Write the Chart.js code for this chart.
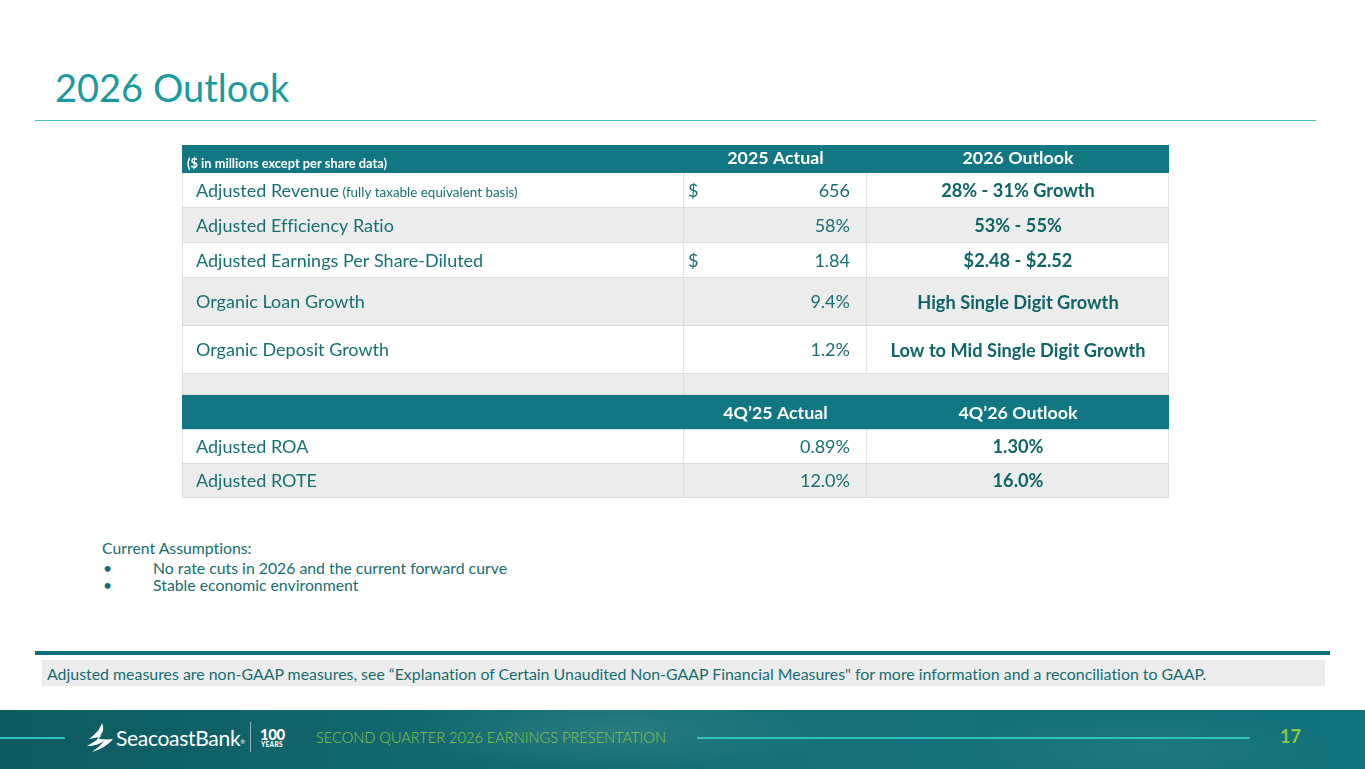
<!DOCTYPE html>
<html>
<head>
<meta charset="utf-8">
<script src="https://cdn.jsdelivr.net/npm/chart.js@4.4.1/dist/chart.umd.min.js"></script>
<style>
  html, body { margin:0; padding:0; width:1365px; height:769px; overflow:hidden; background:#ffffff; font-family: Lato, "Open Sans", sans-serif; font-variant-ligatures:none; }
  .abs { position:absolute; white-space:nowrap; }
  #title { left:55px; top:68px; font-size:38px; line-height:1; color:#1a9ba0; }
  #titleRule { left:35px; top:120px; width:1281px; height:1px; background:#3fc1c0; }
  .sec { position:absolute; left:182px; width:987px; }
  #assume { left:102px; top:539px; font-size:15.8px; line-height:17px; color:#166d70; }
  #assume ul { margin:3px 0 0 0; padding:0; list-style:none; }
  #assume li { position:relative; padding-left:51px; }
  #assume li::before { content:"\2022"; position:absolute; left:1px; top:0; }
  #thickRule { left:35px; top:651px; width:1295px; height:4px; background:#0f6f76; }
  #noteBox { left:42px; top:660px; width:1283px; height:26px; background:#ececec; }
  #noteText { left:47px; top:664px; font-size:15.9px; line-height:19px; color:#166d70; }
  #footer { left:0; top:710px; width:1365px; height:59px;
    background: radial-gradient(ellipse 300px 60px at 620px 20px, rgba(80,150,150,0.35), rgba(0,0,0,0) 70%),
                radial-gradient(ellipse 260px 50px at 1150px 40px, rgba(70,140,145,0.25), rgba(0,0,0,0) 70%),
                linear-gradient(90deg, #0d5b61 0%, #126a70 35%, #15707a 60%, #11727b 100%); }
  .fline { position:absolute; height:2px; background:#33c1bd; }
  #brand { left:116px; top:726px; font-size:21px; line-height:24px; color:#ffffff; letter-spacing:-0.3px; }
  #brand sup { font-size:6px; vertical-align:top; position:relative; top:4px; }
  #vdiv { left:250px; top:722px; width:1px; height:30px; background:rgba(255,255,255,0.55); }
  #hundred { left:260px; top:726px; font-size:15px; font-weight:900; line-height:16px; color:#fff; letter-spacing:-0.5px; }
  #years { left:261px; top:741px; font-size:6.5px; font-weight:900; line-height:7px; color:#fff; letter-spacing:0.3px; }
  #present { left:316px; top:729px; font-size:14.6px; line-height:17px; color:#8cc63f; font-weight:300; }
  #page { left:1280px; top:726px; font-size:18px; line-height:20px; color:#8cc63f; font-weight:bold; }
</style>
</head>
<body>
<div id="title" class="abs">2026 Outlook</div>
<div id="titleRule" class="abs"></div>

<div class="sec" style="top:145px;height:28px;"><canvas id="sec0"></canvas></div>
<div class="sec" style="top:173px;height:105px;"><canvas id="sec1"></canvas></div>
<div class="sec" style="top:278px;height:96px;"><canvas id="sec2"></canvas></div>
<div class="sec" style="top:374px;height:21px;"><canvas id="sec3"></canvas></div>
<div class="sec" style="top:395px;height:103px;"><canvas id="sec4"></canvas></div>

<div id="assume" class="abs">
  <div id="assumeTitle"></div>
  <ul id="assumeList"></ul>
</div>

<div id="thickRule" class="abs"></div>
<div id="noteBox" class="abs"></div>
<div id="noteText" class="abs"></div>

<div id="footer" class="abs"></div>
<div class="fline" style="left:0;top:737px;width:65px;"></div>
<div class="fline" style="left:697px;top:737px;width:553px;"></div>
<svg class="abs" style="left:86px;top:723px;" width="28" height="30" viewBox="0 0 28 30">
  <path d="M16 0 C14 6 10 11 3 16 C9 15 13 14 16 12 C12 16 7 20 1 23 C8 23 14 21 18 18 C15 22 10 26 6 29 C14 27 22 22 27 16 C20 17 14 16 11 15 C16 12 19 7 16 0 Z" fill="#ffffff"/>
</svg>
<div id="brand" class="abs">SeacoastBank<sup>®</sup></div>
<div id="vdiv" class="abs"></div>
<div id="hundred" class="abs">100</div>
<div id="years" class="abs">YEARS</div>
<div id="present" class="abs">SECOND QUARTER 2026 EARNINGS PRESENTATION</div>
<div id="page" class="abs">17</div>

<script>
// ================= DATA =================
const headerNote = '($ in millions except per share data)';
const annualHeaders = ['2025 Actual', '2026 Outlook'];
const annualMetrics = ['Adjusted Revenue', 'Adjusted Efficiency Ratio', 'Adjusted Earnings Per Share-Diluted', 'Organic Loan Growth', 'Organic Deposit Growth'];
const annualMetricNotes = ['(fully taxable equivalent basis)', '', '', '', ''];
const actual2025 = [656, 58, 1.84, 9.4, 1.2];
const actual2025Units = ['$', '%', '$', '%', '%'];
const actual2025Decimals = [0, 0, 2, 1, 1];
const outlook2026 = ['28% - 31% Growth', '53% - 55%', '$2.48 - $2.52', 'High Single Digit Growth', 'Low to Mid Single Digit Growth'];

const quarterHeaders = ['4Q\u201925 Actual', '4Q\u201926 Outlook'];
const quarterMetrics = ['Adjusted ROA', 'Adjusted ROTE'];
const actual4Q25 = [0.89, 12.0];
const outlook4Q26 = [1.30, 16.0];
const quarterDecimals = [2, 1];

const assumptionsTitle = 'Current Assumptions:';
const assumptions = ['No rate cuts in 2026 and the current forward curve', 'Stable economic environment'];
const footnote = 'Adjusted measures are non-GAAP measures, see \u201cExplanation of Certain Unaudited Non-GAAP Financial Measures" for more information and a reconciliation to GAAP.';

// ================= STYLE / LAYOUT =================
const FONT = 'Lato, "Open Sans", sans-serif';
const TEAL_HEAD = '#117782';
const GREY_ROW = '#ececec';
const WHITE_ROW = '#ffffff';
const GRID = '#d6d6d6';
const TXT = '#167073';
const TXT_BOLD = '#0f6467';
const COLUMN_EDGES = [0, 502, 685, 987];   // table column boundaries (layout units)
const ROW_SIZE = 18, BOLD_SIZE = 18.2, NOTE_SIZE = 13.4, HEAD_SIZE = 17.8, SMALL_HEAD = 12.8;
const SECTION_ROWS = [[0, 1], [1, 4], [4, 6], [6, 7], [7, 10]];

// ================= BUILD ROW MODEL =================
function fmt(v, d) { return v.toFixed(d); }
const rows = [];
rows.push({ kind: 'header', fill: TEAL_HEAD, cells: [
  { parts: [{ t: headerNote, size: SMALL_HEAD, bold: true }], align: 'left', pad: 5, color: '#ffffff', dy: 4 },
  { parts: [{ t: annualHeaders[0], size: HEAD_SIZE, bold: true }], align: 'center', color: '#ffffff', dy: -1 },
  { parts: [{ t: annualHeaders[1], size: HEAD_SIZE, bold: true }], align: 'center', color: '#ffffff', dy: -1 }
]});
annualMetrics.forEach((m, i) => {
  const parts = [{ t: m, size: ROW_SIZE }];
  if (annualMetricNotes[i]) parts.push({ t: ' ' + annualMetricNotes[i], size: NOTE_SIZE });
  const unit = actual2025Units[i];
  rows.push({ kind: 'data', fill: i % 2 === 0 ? WHITE_ROW : GREY_ROW, cells: [
    { parts, align: 'left', pad: 14, color: TXT },
    { parts: [{ t: fmt(actual2025[i], actual2025Decimals[i]) + (unit === '%' ? '%' : ''), size: ROW_SIZE }],
      align: 'right', pad: 17, color: TXT, prefix: unit === '$' ? '$' : null },
    { parts: [{ t: outlook2026[i], size: BOLD_SIZE, bold: true }], align: 'center', color: TXT_BOLD }
  ]});
});
rows.push({ kind: 'spacer', fill: GREY_ROW, cells: [null, null, null] });
rows.push({ kind: 'header', fill: TEAL_HEAD, cells: [
  null,
  { parts: [{ t: quarterHeaders[0], size: HEAD_SIZE, bold: true }], align: 'center', color: '#ffffff' },
  { parts: [{ t: quarterHeaders[1], size: HEAD_SIZE, bold: true }], align: 'center', color: '#ffffff' }
]});
quarterMetrics.forEach((m, i) => {
  rows.push({ kind: 'data', fill: i % 2 === 0 ? WHITE_ROW : GREY_ROW, cells: [
    { parts: [{ t: m, size: ROW_SIZE }], align: 'left', pad: 14, color: TXT },
    { parts: [{ t: fmt(actual4Q25[i], quarterDecimals[i]) + '%', size: ROW_SIZE }], align: 'right', pad: 17, color: TXT },
    { parts: [{ t: fmt(outlook4Q26[i], quarterDecimals[i]) + '%', size: BOLD_SIZE, bold: true }], align: 'center', color: TXT_BOLD }
  ]});
});

function borderFor(row, j) {
  if (row.kind === 'header') return 0;
  const b = { top: 0, bottom: 1, left: j === 0 ? 1 : 0, right: 1 };
  if (row.kind === 'spacer' && j === 1) b.right = 0;
  return b;
}

function setFont(ctx, pt) {
  ctx.font = (pt.bold ? 'bold ' : '') + pt.size + 'px ' + FONT;
  if ('letterSpacing' in ctx) ctx.letterSpacing = '0.01px';   // disables ligatures
}

function cellTextPlugin(secRows) {
  return {
    id: 'cellText',
    afterDatasetsDraw(chart) {
      const ctx = chart.ctx;
      ctx.save();
      chart.data.datasets.forEach((ds, j) => {
        const meta = chart.getDatasetMeta(j);
        meta.data.forEach((el, i) => {
          const cell = secRows[i].cells[j];
          if (!cell) return;
          const p = el.getProps(['x', 'base', 'y'], true);
          const left = Math.min(p.x, p.base), right = Math.max(p.x, p.base);
          const mainSize = cell.parts[0].size;
          const baseY = p.y + mainSize * 0.36 + (cell.dy || 0);
          ctx.fillStyle = cell.color;
          ctx.textBaseline = 'alphabetic';
          ctx.textAlign = 'left';
          const widths = cell.parts.map(pt => { setFont(ctx, pt); return ctx.measureText(pt.t).width; });
          const total = widths.reduce((a, b) => a + b, 0);
          let x;
          if (cell.align === 'left') x = left + (cell.pad || 0);
          else if (cell.align === 'right') x = right - (cell.pad || 0) - total;
          else x = (left + right) / 2 - total / 2;
          cell.parts.forEach((pt, k) => {
            setFont(ctx, pt);
            ctx.fillText(pt.t, x, baseY);
            x += widths[k];
          });
          if (cell.prefix) {
            setFont(ctx, { size: mainSize });
            ctx.fillText(cell.prefix, left + 4, baseY);
          }
        });
      });
      ctx.restore();
    }
  };
}

function makeSection(canvasId, secRows) {
  const datasets = [0, 1, 2].map(j => ({
    data: secRows.map(() => [COLUMN_EDGES[j], COLUMN_EDGES[j + 1]]),
    backgroundColor: secRows.map(r => r.fill),
    borderColor: secRows.map(r => r.kind === 'header' ? r.fill : GRID),
    borderWidth: (c) => borderFor(secRows[c.dataIndex], j),
    borderSkipped: false,
    categoryPercentage: 1,
    barPercentage: 1,
    grouped: false
  }));
  new Chart(document.getElementById(canvasId), {
    type: 'bar',
    data: { labels: secRows.map((r, i) => canvasId + '-' + i), datasets },
    options: {
      indexAxis: 'y',
      responsive: true,
      maintainAspectRatio: false,
      animation: false,
      events: [],
      layout: { padding: 0 },
      plugins: { legend: { display: false }, tooltip: { enabled: false } },
      scales: {
        x: { type: 'linear', min: COLUMN_EDGES[0], max: COLUMN_EDGES[3], display: false },
        y: { type: 'category', display: false, offset: true }
      }
    },
    plugins: [cellTextPlugin(secRows)]
  });
}

SECTION_ROWS.forEach(([a, b], s) => makeSection('sec' + s, rows.slice(a, b)));

// ================= TEXT BLOCKS =================
document.getElementById('assumeTitle').textContent = assumptionsTitle;
const ul = document.getElementById('assumeList');
assumptions.forEach(a => { const li = document.createElement('li'); li.textContent = a; ul.appendChild(li); });
document.getElementById('noteText').textContent = footnote;
</script>
</body>
</html>
